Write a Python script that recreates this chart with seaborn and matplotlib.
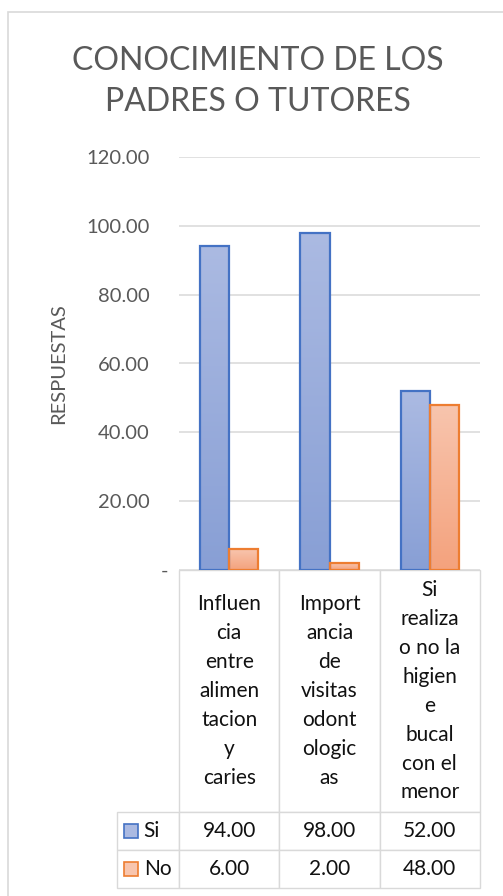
import numpy as np
import pandas as pd
import matplotlib
matplotlib.use("Agg")
import matplotlib.pyplot as plt
import seaborn as sns
from matplotlib.colors import LinearSegmentedColormap
from matplotlib.patches import Rectangle
from matplotlib.ticker import FuncFormatter

# data
categorias = ["Influencia entre alimentacion y caries",
              "Importancia de visitas odontologicas",
              "Si realiza o no la higiene bucal con el menor"]
etiquetas = ["Influen\ncia\nentre\nalimen\ntacion\ny\ncaries",
             "Import\nancia\nde\nvisitas\nodont\nologic\nas",
             "Si\nrealiza\no no la\nhigien\ne\nbucal\ncon el\nmenor"]
respuestas = ["Si", "No"]
si = [94.0, 98.0, 52.0]
no = [6.0, 2.0, 48.0]

df = pd.DataFrame({
    "Categoria": categorias * 2,
    "Respuesta": ["Si"] * 3 + ["No"] * 3,
    "Valor": si + no,
})

sns.set_style("white")
plt.rcParams["font.family"] = ["Lato", "DejaVu Sans"]
gris = "#595959"
linea = "#d9d9d9"

fig = plt.figure(figsize=(5.03, 8.96), dpi=100)
ax = fig.add_axes([179 / 503, 326 / 896, 301 / 503, 413 / 896])

sns.barplot(data=df, x="Categoria", y="Valor", hue="Respuesta",
            palette=["#9dafdc", "#f5b394"], width=0.58, saturation=1,
            legend=False, ax=ax)

# gradient fill + edges like Excel
bordes = ["#4472c4", "#ed7d31"]
grad = [("#889fd5", "#abbae2"), ("#f4a27d", "#f8c5ae")]
g = np.linspace(0, 1, 256).reshape(-1, 1)
for cont, ec, (c0, c1) in zip(ax.containers, bordes, grad):
    cmap = LinearSegmentedColormap.from_list("g", [c0, c1])
    for bar in cont:
        x, y, w, h = bar.get_x(), bar.get_y(), bar.get_width(), bar.get_height()
        im = ax.imshow(g, extent=[x, x + w, y, y + h], origin="lower",
                       cmap=cmap, aspect="auto", zorder=1.5)
        im.set_clip_path(bar)
        bar.set_facecolor("none")
        bar.set_edgecolor(ec)
        bar.set_linewidth(1.6)
        bar.set_zorder(2)

ax.set_xlim(-0.5, 2.5)
ax.set_ylim(0, 120)
ax.set_yticks([0, 20, 40, 60, 80, 100, 120])
ax.yaxis.set_major_formatter(FuncFormatter(lambda v, p: "-" if v == 0 else f"{v:.2f}"))
ax.tick_params(axis="y", length=0, pad=21, labelsize=14.5, labelcolor=gris)
ax.set_xticks([])
ax.set_xlabel("")
ax.set_ylabel("RESPUESTAS", fontsize=14.5, color=gris, labelpad=14)
ax.yaxis.grid(True, color=linea, linewidth=1.1)
ax.set_axisbelow(True)
for s in ax.spines.values():
    s.set_visible(False)

zero = ax.yaxis.get_major_ticks()[0]
zero.label1.set_x(0.05)
zero.label1.set_horizontalalignment("center")

# data table: first column holds the series names (legend keys)
filas = [[resp] + [f"{v:.2f}" for v in vals] for resp, vals in zip(respuestas, [si, no])]
tabla = ax.table(cellText=filas, colLabels=[""] + etiquetas, cellLoc="center",
                 bbox=[-62 / 301, -318 / 413, 363 / 301, 318 / 413])
tabla.auto_set_font_size(False)
tabla.set_fontsize(15)
for (r, c), cell in tabla.get_celld().items():
    cell.set_edgecolor(linea)
    cell.set_linewidth(1.0)
    cell.set_height(243 if r == 0 else 38)
    cell.set_width(62 if c == 0 else 100.33)
    cell.get_text().set_color("#111111")
    if r == 0:
        cell.get_text().set_linespacing(1.56)
    if c == 0:
        cell.get_text().set_horizontalalignment("left")
        cell.PAD = 0.43
        if r == 0:
            cell.visible_edges = ""

fig.canvas.draw()
for i, col in enumerate(bordes):
    cell = tabla[(i + 1, 0)]
    cx, cy, cw, ch = cell.get_x(), cell.get_y(), cell.get_width(), cell.get_height()
    sw = 14 / 301
    sh = 14 / 413
    ax.add_patch(Rectangle((cx + 7 / 301, cy + ch / 2 - sh / 2), sw, sh,
                           transform=ax.transAxes, clip_on=False,
                           facecolor=grad[i][1], edgecolor=col, linewidth=1.2))

fig.suptitle("CONOCIMIENTO DE LOS\nPADRES O TUTORES", x=258 / 503, y=1 - 46 / 896,
             va="top", fontsize=23, color=gris, linespacing=1.45)

# chart border (top and left)
fig.patches.append(Rectangle((8 / 503, -0.1), 2, 1 - 12 / 896 + 0.1,
                             transform=fig.transFigure, fill=False,
                             edgecolor=linea, linewidth=1.2))

fig.savefig("out.png", dpi=100)
